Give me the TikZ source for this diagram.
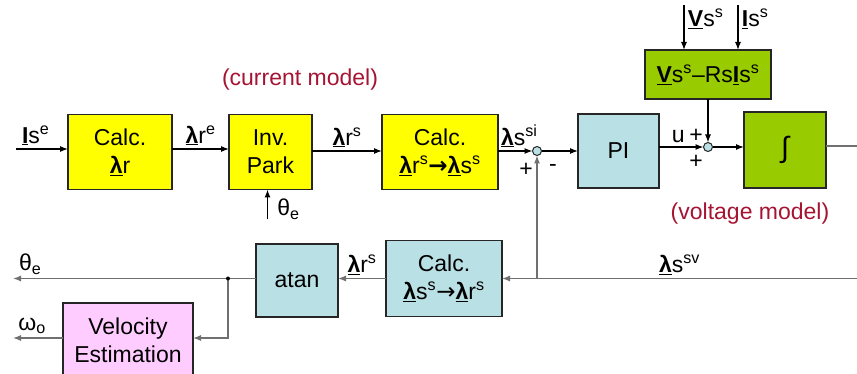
\documentclass[tikz,border=0pt]{standalone}
\usepackage{fontspec}
\setmainfont{Liberation Sans}
\newfontfamily\arrowfont{DejaVu Sans}
\usepackage{xcolor}
\usepackage{tikz}
\usetikzlibrary{arrows.meta,positioning}

\definecolor{yelbox}{RGB}{255,255,0}
\definecolor{cyanbox}{RGB}{185,224,228}
\definecolor{grnbox}{RGB}{153,204,0}
\definecolor{pinkbox}{RGB}{255,204,255}
\definecolor{modelred}{RGB}{165,20,50}
\definecolor{wiregray}{RGB}{112,112,112}

\newcommand{\blam}{\underline{\textbf{λ}}}
\newcommand{\bI}{\underline{\textbf{I}}}
\newcommand{\bV}{\underline{\textbf{V}}}
\newcommand{\sps}[1]{\textsuperscript{#1}}
\newcommand{\toarr}{{\arrowfont →}}
\newcommand{\btoarr}{{\arrowfont\bfseries →}}

\begin{document}
\begin{tikzpicture}[
    x=1pt, y=1pt,
    >={Latex[length=8pt,width=6pt]},
    font=\fontsize{23}{28}\selectfont,
    blk/.style={rectangle, draw=black!85, line width=1.2pt, outer sep=0pt, align=center, inner sep=2pt, minimum height=75pt},
    sumpt/.style={circle, draw=black!85, fill=cyanbox, line width=1pt, outer sep=0pt, minimum size=9pt, inner sep=0pt},
    wire/.style={line width=1.2pt},
    gwire/.style={line width=1.2pt, draw=wiregray},
    modeltxt/.style={text=modelred}
]
\useasboundingbox (0,0) rectangle (857,-374);

\node (calcLr) [blk, fill=yelbox, minimum width=104pt] at (120,-152) {Calc.\\\blam r};
\node (invpark) [blk, fill=yelbox, right=57pt of calcLr, minimum width=83pt] {Inv.\\Park};
\node (calcRS) [blk, fill=yelbox, right=70pt of invpark, minimum width=116pt] {Calc.\\\blam r\sps{s}\btoarr\blam s\sps{s}};
\node (sumA) [sumpt, right=34.5pt of calcRS, yshift=1pt] {};
\node (pictrl) [blk, fill=cyanbox, right=36.5pt of sumA, minimum width=81pt, minimum height=74pt] {PI};
\node (sumB) [sumpt, right=44.5pt of pictrl, yshift=4pt] {};
\node (integ) [blk, fill=grnbox, right=31.5pt of sumB, yshift=-3pt, minimum width=82pt, minimum height=76pt, font=\fontsize{29}{30}\selectfont] {∫};
\node (vsrs) [blk, fill=grnbox, above=43.5pt of sumB, minimum width=126pt, minimum height=49pt] {\bV s\sps{s}–Rs\bI s\sps{s}};
\node (calcSR) [blk, fill=cyanbox, below=51pt of calcRS, xshift=4pt, minimum width=116pt, minimum height=76pt] {Calc.\\\blam s\sps{s}\toarr\blam r\sps{s}};
\node (atan) [blk, fill=cyanbox, left=48pt of calcSR, yshift=-2pt, minimum width=82pt, minimum height=73pt] {atan};
\node (velest) [blk, fill=pinkbox, minimum width=130pt, minimum height=74pt] at (128,-340) {Velocity\\Estimation};

\node (curModel) [modeltxt] at (300,-80) {(current model)};
\node (voltModel) [modeltxt] at (750,-214) {(voltage model)};

\node (plusA) at ([xshift=-11pt,yshift=-19pt]sumA) {+};
\node (minusA) at ([xshift=16pt,yshift=-17pt]sumA) {-};
\node (plusB1) at ([xshift=-12pt,yshift=11pt]sumB) {+};
\node (plusB2) at ([xshift=-12pt,yshift=-15pt]sumB) {+};

\coordinate (edgeL) at (13,0);
\coordinate (edgeR) at (857,0);
\coordinate (isIn) at ([xshift=-52pt,yshift=3pt]calcLr.west);
\coordinate (thIn) at ([xshift=-3pt,yshift=-30pt]invpark.south);
\coordinate (vsIn) at ([xshift=-24pt,yshift=45pt]vsrs.north);
\coordinate (isSIn) at ([xshift=30pt,yshift=45pt]vsrs.north);
\coordinate (fbJ) at (sumA |- calcSR.east);
\coordinate (tap) at ([xshift=-28pt]atan.west |- calcSR.west);

\draw[wire, ->] (isIn) -- node[pos=0.38, above]{\bI s\sps{e}} (calcLr.west |- isIn);
\draw[wire, ->] (calcLr.east |- isIn) -- node[above]{\blam r\sps{e}} (invpark.west |- isIn);
\draw[wire, ->] (invpark.east |- sumA) -- node[above]{\blam r\sps{s}} (calcRS.west |- sumA);
\draw[wire, ->] (thIn) node[right, xshift=6pt, yshift=10pt]{θ\textsubscript{e}} -- (thIn |- invpark.south);
\draw[wire, ->] (calcRS.east |- sumA) -- node[above, xshift=4pt]{\blam s\sps{si}} (sumA);
\draw[wire, ->] (sumA) -- (pictrl);
\draw[wire, ->] (pictrl.east |- sumB) -- node[above, xshift=-3pt]{u} (sumB);
\draw[wire, ->] (vsrs) -- (sumB);
\draw[wire, ->] (sumB) -- (integ.west |- sumB);
\draw[wire, ->] (vsIn) node[below right]{\bV s\sps{s}} -- (vsIn |- vsrs.north);
\draw[wire, ->] (isSIn) node[below right]{\bI s\sps{s}} -- (isSIn |- vsrs.north);

\draw[gwire] ([yshift=4pt]integ.east) -- ([yshift=4pt]integ.east -| edgeR);
\draw[gwire, ->] (calcSR.east -| edgeR) -- node[above]{\blam s\sps{sv}} (calcSR.east);
\draw[gwire, ->] (fbJ) -- (sumA.south);
\draw[gwire, ->] (calcSR.west) -- node[above]{\blam r\sps{s}} (atan.east |- calcSR.west);
\draw[gwire] (atan.west |- calcSR.west) -- (tap);
\draw[gwire, ->] (tap) -- node[pos=0.92, above]{θ\textsubscript{e}} (tap -| edgeL);
\draw[gwire, ->] (tap) |- ([yshift=2pt]velest.east);
\draw[gwire, ->] ([yshift=2pt]velest.west) -- node[pos=0.62, above]{ω\textsubscript{o}} ([yshift=2pt]velest.west -| edgeL);
\fill (tap) circle (2pt);
\end{tikzpicture}
\end{document}
